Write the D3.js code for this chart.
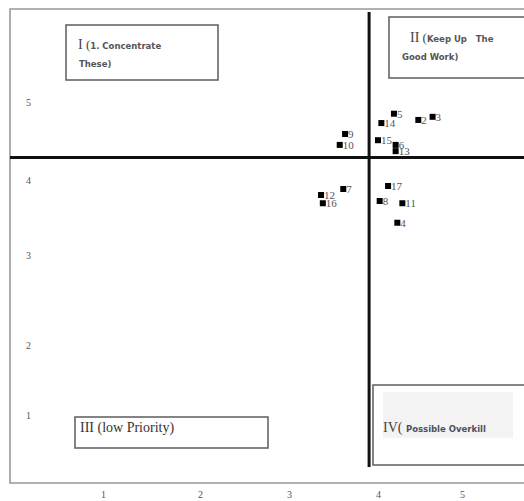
<!DOCTYPE html>
<html><head><meta charset="utf-8">
<script src="https://cdn.jsdelivr.net/npm/d3@7"></script>
<style>body{margin:0;background:#fff}svg{display:block}</style>
</head><body><svg id="c" width="524" height="501"></svg>
<script>
const xTicks = [1, 2, 3, 4, 5];
const yTicks = [1, 2, 3, 4, 5];
const ids = [2, 3, 4, 5, 6, 7, 8, 9, 10, 11, 12, 13, 14, 15, 16, 17];
const xVals = [4.48, 4.65, 4.23, 4.19, 4.21, 3.61, 4.02, 3.63, 3.57, 4.29, 3.36, 4.21, 4.04, 4.00, 3.38, 4.12];
const yVals = [4.77, 4.81, 3.43, 4.85, 4.45, 3.88, 3.72, 4.59, 4.45, 3.69, 3.80, 4.37, 4.73, 4.51, 3.69, 3.92];
const xMean = 3.90, yMean = 4.29;

const svg = d3.select("#c");
const x = d3.scaleLinear().domain(xTicks).range([103, 200, 289, 378, 462]);
const y = d3.scaleLinear().domain(yTicks).range([415, 345, 255, 180, 102]);

// frame
svg.append("path").attr("d", "M524,9 H10 V483 H524")
  .attr("fill", "none").attr("stroke", "#999").attr("stroke-width", 1.6);

// axes labels (no lines)
const xa = svg.append("g").attr("transform", "translate(0,488)")
  .call(d3.axisBottom(x).tickValues(xTicks).tickSize(0).tickFormat(d3.format("d")));
xa.select(".domain").remove();
xa.selectAll("text").attr("font-family", "Liberation Serif").attr("font-size", 10).attr("fill", "#555");
const ya = svg.append("g").attr("transform", "translate(34,0)")
  .call(d3.axisLeft(y).tickValues(yTicks).tickSize(0).tickFormat(d3.format("d")));
ya.select(".domain").remove();
ya.selectAll("text").attr("font-family", "Liberation Serif").attr("font-size", 10).attr("fill", "#555");

// boxes
function box(x0, y0, x1, y1) {
  svg.append("rect").attr("x", x0).attr("y", y0).attr("width", x1 - x0).attr("height", y1 - y0)
    .attr("fill", "#fff").attr("stroke", "#666").attr("stroke-width", 1.6);
}
box(66, 25, 218, 80);
box(389, 17, 530, 78);
box(75, 417, 268, 448);
box(373, 385, 530, 465);
svg.append("rect").attr("x", 383).attr("y", 392).attr("width", 130).attr("height", 46).attr("fill", "#f3f3f3");

const serif = "Liberation Serif", sans = "DejaVu Sans";
function label(tx, ty, parts) {
  const t = svg.append("text").attr("x", tx).attr("y", ty);
  parts.forEach(p => t.append("tspan").text(p[0]).attr("font-family", p[1]).attr("font-size", p[2])
    .attr("font-weight", p[3] || "normal").attr("fill", p[4] || "#444").attr("xml:space", "preserve"));
}
label(78, 49, [["I", serif, 14], [" (", serif, 13], ["1. Concentrate", sans, 8.5, "bold", "#555"]]);
label(79, 67, [["These)", sans, 8.5, "bold", "#555"]]);
label(410, 42, [["II", serif, 14], [" (", serif, 13], ["Keep Up   The", sans, 8.5, "bold", "#555"]]);
label(402, 60, [["Good Work)", sans, 8.5, "bold", "#555"]]);
label(80, 432, [["III (low Priority)", serif, 14, "normal", "#333"]]);
label(383, 432, [["IV( ", serif, 14, "normal", "#444"], ["Possible Overkill", sans, 8.5, "bold", "#4a5060"]]);

// crosshair
svg.append("line").attr("x1", x(xMean)).attr("x2", x(xMean)).attr("y1", 12).attr("y2", 467)
  .attr("stroke", "#111").attr("stroke-width", 3);
svg.append("line").attr("x1", 10).attr("x2", 524).attr("y1", y(yMean)).attr("y2", y(yMean))
  .attr("stroke", "#111").attr("stroke-width", 3);

// points
const pts = ids.map((id, i) => ({id, xv: xVals[i], yv: yVals[i]}));
const g = svg.append("g");
g.selectAll("rect.pt").data(pts).join("rect").attr("class", "pt")
  .attr("x", d => x(d.xv) - 3).attr("y", d => y(d.yv) - 3).attr("width", 6).attr("height", 6).attr("fill", "#000");
g.selectAll("text.pl").data(pts).join("text").attr("class", "pl")
  .attr("x", d => x(d.xv) + 3).attr("y", d => y(d.yv) + 4)
  .attr("font-family", serif).attr("font-size", 11).attr("fill", "#555").text(d => d.id);
</script></body></html>
